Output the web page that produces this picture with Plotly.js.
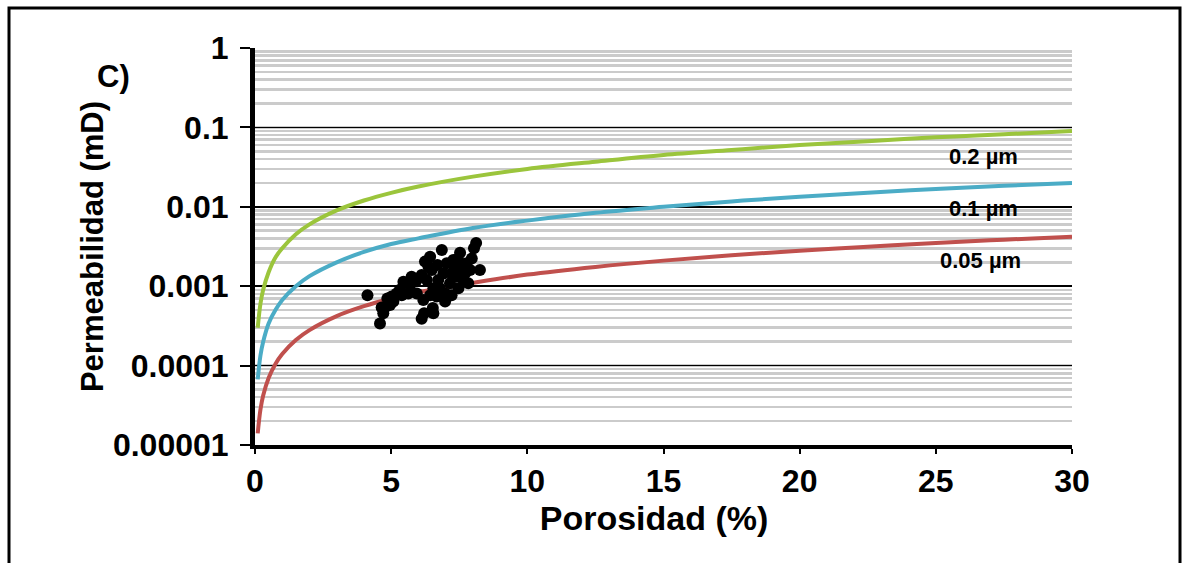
<!DOCTYPE html>
<html>
<head>
<meta charset="utf-8">
<script src="https://cdn.plot.ly/plotly-3.0.1.min.js"></script>
<style>
  html, body { margin: 0; padding: 0; background: #ffffff; }
  #chart { width: 1183px; height: 563px; }
</style>
</head>
<body>
<div id="chart"></div>
<script>
// Porosity sample points (%) for the pore-throat curves
var porosidadCurva = [0.1, 0.2, 0.3, 0.5, 0.75, 1, 1.5, 2, 3, 4, 5, 6, 8, 10, 12.5, 15, 17.5, 20, 22.5, 25, 27.5, 30];
// Permeability (mD)
var perm02um  = [0.0003, 0.0006, 0.0009, 0.0015, 0.0023, 0.003, 0.0045, 0.006, 0.009, 0.012, 0.015, 0.018, 0.024, 0.03, 0.037, 0.045, 0.052, 0.06, 0.067, 0.075, 0.082, 0.09];
var perm01um  = [0.000067, 0.000134, 0.0002, 0.00034, 0.0005, 0.00067, 0.001, 0.00134, 0.002, 0.0027, 0.0034, 0.004, 0.0054, 0.0067, 0.0084, 0.01, 0.0117, 0.0134, 0.015, 0.0168, 0.0184, 0.02];
var perm005um = [0.000014, 0.000028, 0.000042, 0.00007, 0.000105, 0.00014, 0.00021, 0.00028, 0.00042, 0.00056, 0.0007, 0.00084, 0.0011, 0.0014, 0.00175, 0.0021, 0.00245, 0.0028, 0.00315, 0.0035, 0.00385, 0.0042];

// Measured samples
var porosidadMuestras = [4.13, 4.59, 4.71, 4.77, 4.86, 5.02, 5.08, 5.20, 5.39, 5.45, 5.63, 5.75, 5.94, 5.94, 6.18, 6.12, 6.21, 6.53, 6.55, 6.31, 6.24, 6.43, 6.86, 6.70, 6.49, 6.73, 6.92, 7.04, 7.28, 7.16, 6.98, 7.22, 7.53, 7.47, 7.65, 7.83, 7.90, 7.77, 7.96, 8.04, 8.12, 8.26, 7.53, 7.34, 7.40, 6.79, 6.55, 6.43, 6.67, 5.69, 5.32, 4.96, 4.65, 7.71, 6.98, 6.37, 6.12, 7.22, 7.45];
var permMuestras = [0.00077, 0.00034, 0.000455, 0.00054, 0.0007, 0.00074, 0.00064, 0.00081, 0.00077, 0.00114, 0.00081, 0.00132, 0.0012, 0.00081, 0.00067, 0.00039, 0.000455, 0.00053, 0.000455, 0.0012, 0.00204, 0.00235, 0.00286, 0.00185, 0.0016, 0.0012, 0.00145, 0.00194, 0.00214, 0.00109, 0.00081, 0.00077, 0.00264, 0.00094, 0.0012, 0.00109, 0.0016, 0.00194, 0.00224, 0.0030, 0.0035, 0.0016, 0.00176, 0.0016, 0.00132, 0.00094, 0.00094, 0.00077, 0.00074, 0.00103, 0.0009, 0.00058, 0.00054, 0.00145, 0.00064, 0.00176, 0.00138, 0.00145, 0.0022];

// Axis ticks
var yTickVals = [1, 0.1, 0.01, 0.001, 0.0001, 0.00001];
var yTickText = ["1", "0.1", "0.01", "0.001", "0.0001", "0.00001"];
var xTickVals = [0, 5, 10, 15, 20, 25, 30];
var xTickText = ["0", "5", "10", "15", "20", "25", "30"];

// Curve labels
var etiquetas = ["0.2 µm", "0.1 µm", "0.05 µm"];
var etiquetaX = [26.74, 26.74, 26.63];
var etiquetaY = [0.0436, 0.0095, 0.00208];

var boldFont = "Liberation Sans, Arial, sans-serif";

var traces = [
  { x: porosidadCurva, y: perm02um, mode: "lines", line: { color: "#9bc53c", width: 4, shape: "spline" }, hoverinfo: "skip" },
  { x: porosidadCurva, y: perm01um, mode: "lines", line: { color: "#4bacc6", width: 4, shape: "spline" }, hoverinfo: "skip" },
  { x: porosidadCurva, y: perm005um, mode: "lines", line: { color: "#c0504d", width: 4, shape: "spline" }, hoverinfo: "skip" },
  { x: porosidadMuestras, y: permMuestras, mode: "markers", marker: { color: "#000000", size: 12 }, hoverinfo: "skip" }
];

var annotations = etiquetas.map(function (t, i) {
  return { x: etiquetaX[i], y: Math.log10(etiquetaY[i]), xref: "x", yref: "y", text: "<b>" + t + "</b>",
           showarrow: false, xanchor: "center", yanchor: "middle",
           font: { family: boldFont, size: 22, color: "#000000" } };
});
annotations.push({ x: -0.1726, y: 0.927, xref: "paper", yref: "paper", text: "<b>C)</b>", showarrow: false,
                   xanchor: "center", yanchor: "middle", font: { family: boldFont, size: 31, color: "#000000" } });

var layout = {
  width: 1183, height: 563,
  margin: { l: 255, r: 111, t: 48, b: 118 },
  paper_bgcolor: "#ffffff", plot_bgcolor: "#ffffff",
  showlegend: false,
  xaxis: {
    range: [0, 30], tickvals: xTickVals, ticktext: xTickText,
    showgrid: false, zeroline: false,
    showline: true, linecolor: "#000000", linewidth: 4,
    ticks: "outside", ticklen: 5, tickwidth: 2, tickcolor: "#000000",
    tickfont: { family: boldFont, size: 32, color: "#000000", weight: "bold" },
    title: { text: "<b>Porosidad (%)</b>&nbsp;&nbsp;", standoff: 7, font: { family: boldFont, size: 34, color: "#000000" } }
  },
  yaxis: {
    type: "log", range: [-5, 0], tickvals: yTickVals, ticktext: yTickText,
    showgrid: true, gridcolor: "#000000", gridwidth: 1.5,
    minor: { showgrid: true, gridcolor: "#cbcbcb", gridwidth: 2.5, dtick: "D1", ticks: "" },
    zeroline: false,
    showline: true, linecolor: "#000000", linewidth: 5,
    ticks: "outside", ticklen: 10, tickwidth: 2, tickcolor: "#000000",
    ticklabelstandoff: 5,
    tickfont: { family: boldFont, size: 32, color: "#000000", weight: "bold" },
    title: { text: "<b>Permeabilidad (mD)</b>", standoff: 2, font: { family: boldFont, size: 31, color: "#000000" } }
  },
  annotations: annotations,
  shapes: [
    { type: "rect", xref: "paper", yref: "paper", x0: -0.3011, x1: 1.1322, y0: -0.5, y1: 1.1008,
      line: { color: "#000000", width: 3 }, fillcolor: "rgba(0,0,0,0)", layer: "below" }
  ]
};

Plotly.newPlot("chart", traces, layout, { displayModeBar: false, staticPlot: true });
</script>
</body>
</html>
